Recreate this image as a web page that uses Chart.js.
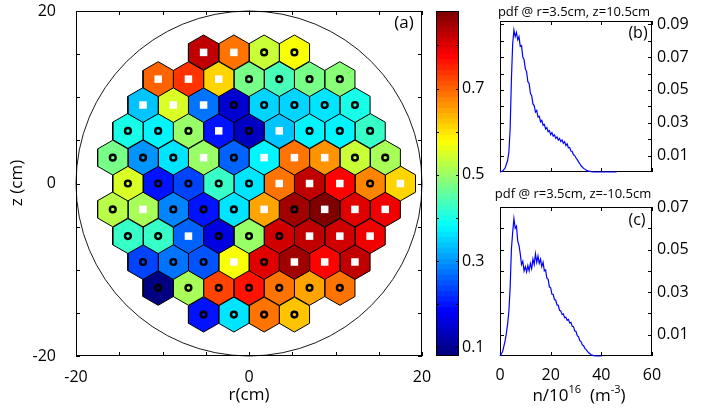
<!DOCTYPE html>
<html>
<head>
<meta charset="utf-8">
<script src="https://cdn.jsdelivr.net/npm/chart.js@4.4.1/dist/chart.umd.min.js"></script>
<style>
    html, body { margin: 0; padding: 0; background: #fff; }
    #wrap { position: relative; width: 703px; height: 408px; overflow: hidden; }
    canvas { position: absolute; }
</style>
</head>
<body>
<div id="wrap">
    <canvas id="map" width="432" height="408" style="left:0;top:0"></canvas>
    <canvas id="cbar" width="60" height="408" style="left:430px;top:0"></canvas>
    <canvas id="pdfB" width="223" height="190" style="left:480px;top:0"></canvas>
    <canvas id="pdfC" width="223" height="228" style="left:480px;top:180px"></canvas>
</div>
<script>
/* ---------- data ---------- */
const cMin = 0.08, cMax = 0.88;
const cbarLabels = [0.1, 0.3, 0.5, 0.7];
const cbarMinor = [0.1, 0.2, 0.3, 0.4, 0.5, 0.6, 0.7, 0.8];

const hexPitch = 3.5;   // cm between probe centres along r
const rowZ  = [15.2, 12.1, 9.1, 6.1, 3.0, 0, -3.0, -6.1, -9.1, -12.1, -15.2];
const rowR0 = [-5.25, -10.5, -12.25, -14, -15.75, -14, -15.75, -14, -12.25, -10.5, -5.25];
const rowVal = [
    [0.82, 0.69, 0.54, 0.58],
    [0.70, 0.73, 0.61, 0.48, 0.44, 0.48, 0.49],
    [0.33, 0.55, 0.27, 0.15, 0.35, 0.35, 0.36, 0.40],
    [0.40, 0.37, 0.50, 0.20, 0.13, 0.34, 0.37, 0.38, 0.42],
    [0.48, 0.30, 0.36, 0.50, 0.26, 0.37, 0.69, 0.66, 0.53, 0.51],
    [0.55, 0.20, 0.24, 0.42, 0.36, 0.69, 0.82, 0.77, 0.67, 0.61],
    [0.52, 0.51, 0.28, 0.20, 0.36, 0.65, 0.85, 0.88, 0.80, 0.78],
    [0.42, 0.42, 0.26, 0.16, 0.50, 0.81, 0.82, 0.81, 0.78],
    [0.24, 0.27, 0.25, 0.58, 0.80, 0.85, 0.77, 0.82],
    [0.09, 0.51, 0.72, 0.76, 0.68, 0.65, 0.69],
    [0.20, 0.36, 0.68, 0.62]
];
// s = white square, o = ring
const rowMark = ['ssoo', 'sssoooo', 'sssooooo', 'ooososooo', 'ooososssoo',
                 'ooooosssos', 'osooososss', 'oosooosss', 'ooososss', 'ooooooo', 'oooo'];

const mapLabels = [-20, 0, 20];
const mapMinor = [-20, -15, -10, -5, 0, 5, 10, 15, 20];

const pdfB_n = [0, 1, 2, 3, 3.5, 4, 4.5, 5,
    5.5, 6, 6.5, 7, 7.5, 8, 8.5, 9, 9.5, 10, 10.5, 11, 11.5, 12, 12.5, 13, 13.5, 14, 14.5,
    15, 15.5, 16, 16.5, 17, 17.5, 18, 18.5, 19, 19.5, 20, 20.5, 21, 21.5, 22, 22.5, 23, 23.5,
    24, 24.5, 25, 25.5, 26, 26.5, 27, 27.5, 28, 28.5, 29, 29.5, 30,
    30.5, 31, 31.5, 32, 33, 34, 35, 36, 37, 40, 43, 46];
const pdfB_p = [0, 0.0005, 0.0024, 0.007, 0.012, 0.026, 0.056, 0.078,
    0.0865, 0.0825, 0.0850, 0.0805, 0.0825, 0.0765, 0.0770, 0.0700, 0.0685, 0.0630, 0.0610,
    0.0550, 0.0540, 0.0480, 0.0465, 0.0415, 0.0405, 0.0365, 0.0375, 0.0335, 0.0340, 0.0305,
    0.0315, 0.0285, 0.0290, 0.0262, 0.0270, 0.0245, 0.0252, 0.0228, 0.0240, 0.0218, 0.0226,
    0.0205, 0.0214, 0.0195, 0.0205, 0.0185, 0.0195, 0.0175, 0.0185, 0.0162, 0.0172, 0.0148,
    0.0150, 0.0128, 0.0125, 0.0105, 0.0100, 0.0085,
    0.0075, 0.0062, 0.0050, 0.0038, 0.0022, 0.0012, 0.0005, 0.0002, 0, 0, 0, 0];

const pdfC_n = [0, 1, 2, 2.5, 3, 3.5, 4,
    4.5, 5, 5.5, 6, 6.5, 7, 7.5, 8, 8.5, 9, 9.5, 10, 10.5, 11, 11.5, 12, 12.5, 13, 13.5, 14,
    14.5, 15, 15.5, 16, 16.5, 17, 17.5, 18, 18.5, 19, 19.5, 20, 20.5, 21, 21.5, 22, 22.5, 23,
    23.5, 24, 24.5, 25, 25.5, 26, 26.5, 27, 27.5, 28, 28.5, 29, 29.5, 30, 30.5, 31, 31.5, 32,
    32.5, 33, 33.5, 34, 35, 36, 37, 38, 40.2];
const pdfC_p = [0, 0.002, 0.007, 0.0105, 0.015, 0.021, 0.032,
    0.050, 0.058, 0.0645, 0.0600, 0.0610, 0.0540, 0.0520, 0.0480, 0.0430, 0.0445, 0.0400,
    0.0420, 0.0395, 0.0425, 0.0400, 0.0435, 0.0410, 0.0455, 0.0430, 0.0480, 0.0440, 0.0470,
    0.0435, 0.0455, 0.0420, 0.0440, 0.0400, 0.0405, 0.0365, 0.0360, 0.0325, 0.0320, 0.0290,
    0.0290, 0.0265, 0.0262, 0.0240, 0.0238, 0.0215, 0.0212, 0.0195, 0.0198, 0.0180, 0.0182,
    0.0168, 0.0172, 0.0155, 0.0158, 0.0140, 0.0138, 0.0118, 0.0115, 0.0095, 0.0090, 0.0072,
    0.0068, 0.0052, 0.0048, 0.0036, 0.0030, 0.0015, 0.0006, 0.0002, 0, 0];

const nLabels = [0, 20, 40, 60];
const pdfB_labels = [0.01, 0.03, 0.05, 0.07, 0.09];
const pdfB_minor = [0.01, 0.02, 0.03, 0.04, 0.05, 0.06, 0.07, 0.08, 0.09];
const pdfC_labels = [0.01, 0.03, 0.05, 0.07];
const pdfC_minor = [0.01, 0.02, 0.03, 0.04, 0.05, 0.06, 0.07];

/* ---------- helpers ---------- */
const FONT = '"Open Sans", "Noto Sans", sans-serif';

function jetAt(i) {   // i = 0..63
    const t = i / 63;
    const c = k => Math.round(255 * Math.min(1, Math.max(0, 1.5 - Math.abs(4 * t - k))));
    return `rgb(${c(3)},${c(2)},${c(1)})`;
}
function jet(v) {
    const i = Math.floor((v - cMin) / (cMax - cMin) * 64);
    return jetAt(Math.min(63, Math.max(0, i)));
}

const hexR = hexPitch / Math.sqrt(3);   // circumradius of a pointy-top cell
function hexOutline(cx, cz) {
    const pts = [];
    for (let k = 0; k <= 6; k++) {
        const a = Math.PI / 2 + k * Math.PI / 3;
        pts.push({ x: cx + hexR * Math.cos(a), y: cz + hexR * Math.sin(a) });
    }
    return pts;
}

// box + inward ticks, matlab style
function frame(o) {
    const draw = chart => {
        const { ctx, chartArea: a, scales } = chart;
        const L = o.len || 4;
        ctx.save();
        ctx.strokeStyle = '#000';
        ctx.lineWidth = 1;
        ctx.beginPath();
        (o.xt || []).forEach(v => {
            const px = Math.round(scales.x.getPixelForValue(v)) + 0.5;
            ctx.moveTo(px, a.bottom); ctx.lineTo(px, a.bottom - L);
            ctx.moveTo(px, a.top); ctx.lineTo(px, a.top + L);
        });
        (o.yt || []).forEach(v => {
            const py = Math.round(scales.y.getPixelForValue(v)) + 0.5;
            ctx.moveTo(a.left, py); ctx.lineTo(a.left + L, py);
            ctx.moveTo(a.right, py); ctx.lineTo(a.right - L, py);
        });
        ctx.stroke();
        ctx.strokeRect(Math.round(a.left) + 0.5, Math.round(a.top) + 0.5,
                       Math.round(a.width) - 1, Math.round(a.height) - 1);
        if (o.circle) {
            const x = scales.x, y = scales.y;
            const cx = x.getPixelForValue(0), cy = y.getPixelForValue(0);
            ctx.lineWidth = 0.9;
            ctx.beginPath();
            ctx.ellipse(cx, cy, x.getPixelForValue(o.circle) - cx, cy - y.getPixelForValue(o.circle), 0, 0, Math.PI * 2);
            ctx.stroke();
        }
        ctx.restore();
    };
    return o.under ? { id: 'frame', beforeDatasetsDraw: draw } : { id: 'frame', afterDatasetsDraw: draw };
}

// free text, with optional superscripts
function notes(list) {
    return {
        id: 'notes',
        afterDraw(chart) {
            const ctx = chart.ctx;
            list.forEach(n => {
                ctx.save();
                ctx.fillStyle = '#000';
                ctx.textBaseline = 'middle';
                ctx.textAlign = 'left';
                ctx.translate(n.x, n.y);
                if (n.rot) ctx.rotate(n.rot);
                const parts = n.parts || [[n.text, 0]];
                const w = parts.map(([t, sup]) => {
                    ctx.font = `${sup ? n.size * 0.65 : n.size}px ${FONT}`;
                    return ctx.measureText(t).width;
                });
                let x = -w.reduce((s, v) => s + v, 0) / 2;
                parts.forEach(([t, sup], i) => {
                    ctx.font = `${sup ? n.size * 0.65 : n.size}px ${FONT}`;
                    ctx.fillText(t, x, sup ? -n.size * 0.38 : 0);
                    x += w[i];
                });
                ctx.restore();
            });
        }
    };
}

const base = {
    responsive: false,
    animation: false,
    events: [],
};
const quiet = { legend: { display: false }, tooltip: { enabled: false } };
const tickFont = { family: FONT, size: 16 };
const setTicks = vals => s => { s.ticks = vals.map(v => ({ value: v })); };
const fmt2 = v => (Math.round(v * 100) / 100).toFixed(2);
// fixed axis size, and no extra room for labels hanging past the plot edges
const fixW = w => s => { s.width = w; s.paddingTop = s.paddingBottom = s.paddingLeft = s.paddingRight = 0; };
const fixH = h => s => { s.height = h; s.paddingTop = s.paddingBottom = s.paddingLeft = s.paddingRight = 0; };

/* ---------- (a) hex map ---------- */
const hexSets = [], squares = [], rings = [];
rowZ.forEach((z, i) => {
    rowVal[i].forEach((v, j) => {
        const r = rowR0[i] + j * hexPitch;
        hexSets.push({
            type: 'line',
            data: hexOutline(r, z),
            backgroundColor: jet(v),
            borderColor: '#000',
            borderWidth: 1,
            pointRadius: 0,
            fill: 'shape',
            order: 2
        });
        (rowMark[i][j] === 's' ? squares : rings).push({ x: r, y: z });
    });
});

new Chart(document.getElementById('map'), {
    type: 'line',
    data: {
        datasets: [
            { data: squares, showLine: false, pointStyle: 'rect', pointRadius: 5.3,
              pointBackgroundColor: '#fff', pointBorderWidth: 0, order: 0 },
            { data: rings, showLine: false, pointStyle: 'circle', pointRadius: 2.9,
              pointBackgroundColor: 'rgba(0,0,0,0)', pointBorderColor: '#000', pointBorderWidth: 2.4, order: 0 },
            ...hexSets
        ]
    },
    options: {
        ...base,
        layout: { padding: { left: 0, right: 10, top: 11, bottom: 0 } },
        plugins: quiet,
        scales: {
            x: {
                type: 'linear', min: -20, max: 20,
                grid: { display: false, drawTicks: false }, border: { display: false },
                afterBuildTicks: setTicks(mapLabels),
                ticks: { font: tickFont, color: '#000', padding: 12, maxRotation: 0, autoSkip: false },
                afterFit: fixH(52)
            },
            y: {
                type: 'linear', min: -20, max: 20,
                grid: { display: false, drawTicks: false }, border: { display: false },
                afterBuildTicks: setTicks(mapLabels),
                ticks: { font: tickFont, color: '#000', padding: 20, autoSkip: false },
                afterFit: fixW(76)
            }
        }
    },
    plugins: [
        frame({ xt: mapMinor, yt: mapMinor, len: 4, circle: 20 }),
        notes([
            { text: '(a)', x: 404, y: 23, size: 17 },
            { text: 'r(cm)', x: 249, y: 395, size: 17 },
            { text: 'z (cm)', x: 17, y: 183, size: 17, rot: -Math.PI / 2 }
        ])
    ]
});

/* ---------- colour bar ---------- */
const cbarSets = [];
for (let i = 0; i < 64; i++) {
    cbarSets.push({
        data: [[cMin, cMin + (i + 1) * (cMax - cMin) / 64]],
        backgroundColor: jetAt(i),
        borderWidth: 0,
        barPercentage: 1,
        categoryPercentage: 1,
        grouped: false
    });
}
new Chart(document.getElementById('cbar'), {
    type: 'bar',
    data: { labels: [''], datasets: cbarSets },
    options: {
        ...base,
        layout: { padding: { left: 6, right: 0, top: 11, bottom: 52 } },
        plugins: quiet,
        scales: {
            x: { display: false },
            y: {
                position: 'right', min: cMin, max: cMax,
                grid: { display: false, drawTicks: false }, border: { display: false },
                afterBuildTicks: setTicks(cbarLabels),
                ticks: { font: tickFont, color: '#000', padding: 3, callback: v => (Math.round(v * 10) / 10).toFixed(1) },
                afterFit: fixW(31)
            }
        }
    },
    plugins: [frame({ yt: cbarMinor, len: 3 })]
});

/* ---------- (b), (c) pdf panels ---------- */
function pdfPanel(id, xs, ys, yMax, yLabels, yMinor, showX, pad, xH, texts) {
    new Chart(document.getElementById(id), {
        type: 'line',
        data: {
            datasets: [{
                data: xs.map((x, i) => ({ x, y: ys[i] })),
                borderColor: '#0000ff',
                borderWidth: 1.2,
                pointRadius: 0,
                fill: false,
                clip: false
            }]
        },
        options: {
            ...base,
            layout: { padding: pad },
            plugins: quiet,
            scales: {
                x: {
                    type: 'linear', min: 0, max: 60,
                    grid: { display: false, drawTicks: false }, border: { display: false },
                    afterBuildTicks: setTicks(nLabels),
                    ticks: { display: showX, font: tickFont, color: '#000', padding: 10, maxRotation: 0 },
                    afterFit: fixH(xH)
                },
                y: {
                    position: 'right', min: 0, max: yMax,
                    grid: { display: false, drawTicks: false }, border: { display: false },
                    afterBuildTicks: setTicks(yLabels),
                    ticks: { font: tickFont, color: '#000', padding: 5, callback: fmt2 },
                    afterFit: fixW(51)
                }
            }
        },
        plugins: [frame({ xt: nLabels, yt: yMinor, len: 4, under: true }), notes(texts)]
    });
}

pdfPanel('pdfB', pdfB_n, pdfB_p, 0.092, pdfB_labels, pdfB_minor, false,
    { left: 20, right: 0, top: 21, bottom: 0 }, 18, [
        { text: 'pdf @ r=3.5cm, z=10.5cm', x: 94, y: 12, size: 13 },
        { text: '(b)', x: 158, y: 33, size: 16 }
    ]);

pdfPanel('pdfC', pdfC_n, pdfC_p, 0.07, pdfC_labels, pdfC_minor, true,
    { left: 20, right: 0, top: 27, bottom: 0 }, 52, [
        { text: 'pdf @ r=3.5cm, z=-10.5cm', x: 93, y: 14, size: 13 },
        { text: '(c)', x: 157, y: 40, size: 16 },
        { parts: [['n/10', 0], ['16', 1], ['  (m', 0], ['-3', 1], [')', 0]], x: 99, y: 216, size: 17 }
    ]);
</script>
</body>
</html>
